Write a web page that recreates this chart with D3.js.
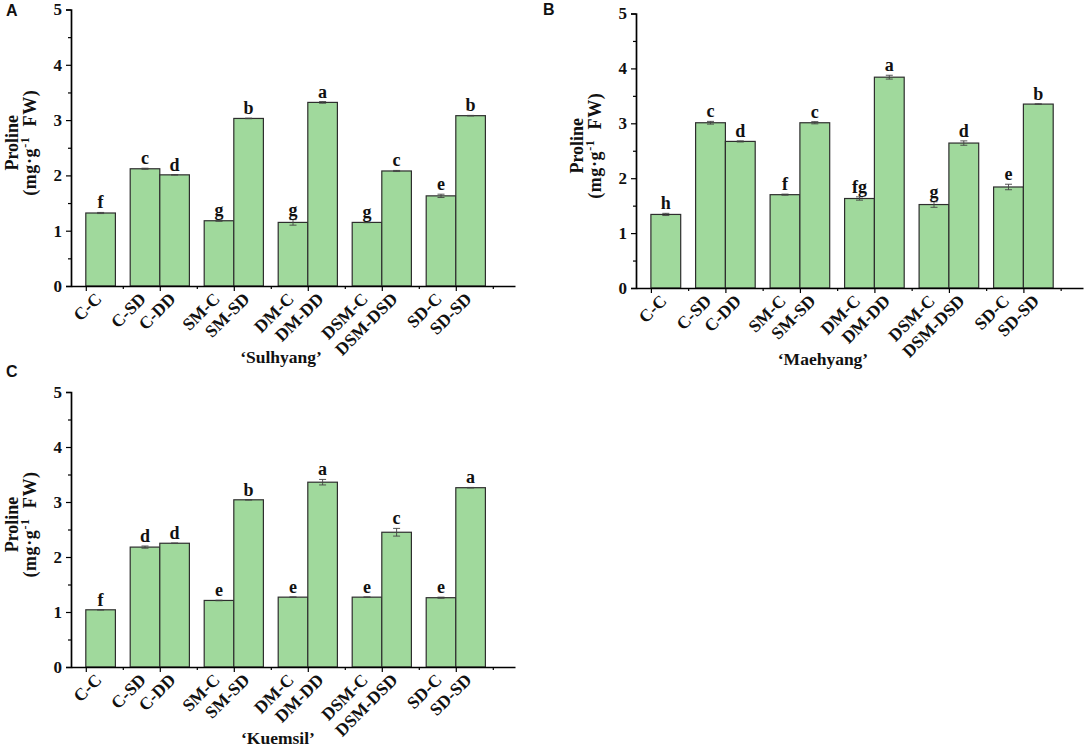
<!DOCTYPE html>
<html>
<head>
<meta charset="utf-8">
<script src="https://cdn.jsdelivr.net/npm/d3@7"></script>
<style>
  body { margin: 0; background: #fff; }
  svg { display: block; }
  .tick-label, .letter, .title, .ylab { font-family: "Liberation Serif", "Times New Roman", serif; font-weight: bold; fill: #111; }
  .panel-tag { font-family: "Liberation Sans", Arial, sans-serif; font-weight: bold; font-size: 16px; fill: #111; }
</style>
</head>
<body>
<svg width="1084" height="754"></svg>
<script>
// treatments, in drawing order (the first slot of the first pair is left empty)
const categories = ["C-C", "C-SD", "C-DD", "SM-C", "SM-SD", "DM-C", "DM-DD", "DSM-C", "DSM-DSD", "SD-C", "SD-SD"];
const yTicks = [0, 1, 2, 3, 4, 5];

// 'Sulhyang'
const sulhyangMean = [1.32, 2.12, 2.01, 1.18, 3.03, 1.15, 3.32, 1.15, 2.08, 1.63, 3.08];
const sulhyangErr = [0.01, 0.01, 0.005, 0.01, 0.005, 0.05, 0.015, 0.005, 0.01, 0.03, 0.005];
const sulhyangLetters = ["f", "c", "d", "g", "b", "g", "a", "g", "c", "e", "b"];

// 'Maehyang'
const maehyangMean = [1.34, 3.01, 2.67, 1.70, 3.01, 1.63, 3.84, 1.52, 2.64, 1.84, 3.35];
const maehyangErr = [0.02, 0.025, 0.01, 0.01, 0.02, 0.03, 0.035, 0.05, 0.04, 0.05, 0.005];
const maehyangLetters = ["h", "c", "d", "f", "c", "fg", "a", "g", "d", "e", "b"];

// 'Kuemsil'
const kuemsilMean = [1.04, 2.18, 2.25, 1.21, 3.04, 1.27, 3.36, 1.27, 2.45, 1.26, 3.26];
const kuemsilErr = [0.005, 0.02, 0.005, 0.005, 0.005, 0.005, 0.05, 0.005, 0.07, 0.01, 0.005];
const kuemsilLetters = ["f", "d", "d", "e", "b", "e", "a", "e", "c", "e", "a"];

const svg = d3.select("svg");

const panels = [
  { tag: "A", title: "\u2018Sulhyang\u2019", mean: sulhyangMean, err: sulhyangErr, letters: sulhyangLetters,
    x0: 71, x1: 515, yBottom: 286, yTop: 9.5, titleX: 281, tagX: 6, tagY: 16 },
  { tag: "B", title: "\u2018Maehyang\u2019", mean: maehyangMean, err: maehyangErr, letters: maehyangLetters,
    x0: 636, x1: 1083, yBottom: 288, yTop: 13.5, titleX: 823, tagX: 543, tagY: 15 },
  { tag: "C", title: "\u2018Kuemsil\u2019", mean: kuemsilMean, err: kuemsilErr, letters: kuemsilLetters,
    x0: 71, x1: 515, yBottom: 667, yTop: 392, titleX: 278, tagX: 6, tagY: 377 }
];

const barFrac = 0.4; // bar width in pair units

function drawPanel(p) {
  const g = svg.append("g");

  // pair index along x: pairs centred on integers 0..5
  const x = d3.scaleLinear().domain([-0.2, 5.8]).range([p.x0, p.x1]);
  const y = d3.scaleLinear().domain([0, 5]).range([p.yBottom, p.yTop]);
  const bw = x(barFrac) - x(0);

  const rows = categories.map((c, i) => {
    const slot = i + 1;
    const pair = Math.floor(slot / 2);
    const left = slot % 2 === 0 ? x(pair) - bw : x(pair);
    return { name: c, mean: p.mean[i], err: p.err[i], letter: p.letters[i], left: left, cx: left + bw / 2 };
  });

  // bars
  g.selectAll("rect.bar")
    .data(rows)
    .enter()
    .append("rect")
    .attr("class", "bar")
    .attr("x", (d) => d.left)
    .attr("width", bw)
    .attr("y", (d) => y(d.mean))
    .attr("height", (d) => y(0) - y(d.mean))
    .attr("fill", "#a0d99c")
    .attr("stroke", "#2e2e2e")
    .attr("stroke-width", 1.2);

  // error bars
  const eb = g.selectAll("g.err").data(rows).enter().append("g").attr("class", "err")
    .attr("stroke", "#444").attr("stroke-width", 0.9);
  eb.append("line")
    .attr("x1", (d) => d.cx).attr("x2", (d) => d.cx)
    .attr("y1", (d) => y(d.mean - d.err)).attr("y2", (d) => y(d.mean + d.err));
  eb.append("line")
    .attr("x1", (d) => d.cx - 3.5).attr("x2", (d) => d.cx + 3.5)
    .attr("y1", (d) => y(d.mean + d.err)).attr("y2", (d) => y(d.mean + d.err));
  eb.append("line")
    .attr("x1", (d) => d.cx - 3.5).attr("x2", (d) => d.cx + 3.5)
    .attr("y1", (d) => y(d.mean - d.err)).attr("y2", (d) => y(d.mean - d.err));

  // significance letters
  g.selectAll("text.letter")
    .data(rows)
    .enter()
    .append("text")
    .attr("class", "letter")
    .attr("x", (d) => d.cx)
    .attr("y", (d) => y(d.mean + d.err) - 4)
    .attr("text-anchor", "middle")
    .attr("font-size", "18px")
    .text((d) => d.letter);

  // y axis
  const yAxis = d3.axisLeft(y).tickValues(yTicks).tickFormat(d3.format("d")).tickSize(5).tickPadding(4);
  const ya = g.append("g").attr("transform", `translate(${p.x0},0)`).call(yAxis);
  ya.select(".domain").attr("stroke", "#000").attr("stroke-width", 1.7);
  ya.selectAll(".tick line").attr("stroke", "#000").attr("stroke-width", 1.2);
  ya.selectAll(".tick text").attr("class", "tick-label").attr("font-size", "17px");
  const yMinor = d3.axisLeft(y).tickValues(d3.range(0.5, 5, 1)).tickFormat("").tickSize(3);
  const ym = g.append("g").attr("transform", `translate(${p.x0},0)`).call(yMinor);
  ym.select(".domain").remove();
  ym.selectAll(".tick line").attr("stroke", "#000").attr("stroke-width", 1.2);

  // x axis
  const xAxis = d3.axisBottom(x).tickValues(d3.range(0, 6)).tickFormat("").tickSize(5).tickSizeOuter(0);
  const xa = g.append("g").attr("transform", `translate(0,${p.yBottom})`).call(xAxis);
  xa.select(".domain").attr("stroke", "#000").attr("stroke-width", 1.7);
  xa.selectAll(".tick line").attr("stroke", "#000").attr("stroke-width", 1.2);
  const xMinor = d3.axisBottom(x).tickValues(d3.range(0.5, 6, 1)).tickFormat("").tickSize(3);
  const xm = g.append("g").attr("transform", `translate(0,${p.yBottom})`).call(xMinor);
  xm.select(".domain").remove();
  xm.selectAll(".tick line").attr("stroke", "#000").attr("stroke-width", 1.2);

  // rotated category labels
  g.selectAll("text.xlab")
    .data(rows)
    .enter()
    .append("text")
    .attr("class", "tick-label")
    .attr("font-size", "17.5px")
    .attr("text-anchor", "end")
    .attr("transform", (d) => `translate(${d.cx + 2},${p.yBottom + 14}) rotate(-45)`)
    .text((d) => d.name);

  // cultivar title
  g.append("text")
    .attr("class", "title")
    .attr("x", p.titleX)
    .attr("y", p.yBottom + 77)
    .attr("text-anchor", "middle")
    .attr("font-size", "17.5px")
    .text(p.title);

  // y-axis title
  const cy = (p.yBottom + p.yTop) / 2 - 5;
  g.append("text")
    .attr("class", "ylab")
    .attr("font-size", "18px")
    .attr("text-anchor", "middle")
    .attr("transform", `translate(${p.x0 - 53},${cy}) rotate(-90)`)
    .text("Proline");
  const unit = g.append("text")
    .attr("class", "ylab")
    .attr("font-size", "18px")
    .attr("letter-spacing", "0.6px")
    .attr("text-anchor", "middle")
    .attr("transform", `translate(${p.x0 - 35},${cy}) rotate(-90)`);
  unit.append("tspan").text("(mg\u00b7g");
  unit.append("tspan").attr("font-size", "12px").attr("dy", "-7").text("-1");
  unit.append("tspan").attr("dy", "7").text("\u00a0\u00a0FW)");

  // panel tag
  svg.append("text").attr("class", "panel-tag").attr("x", p.tagX).attr("y", p.tagY).text(p.tag);
}

panels.forEach(drawPanel);
</script>
</body>
</html>
